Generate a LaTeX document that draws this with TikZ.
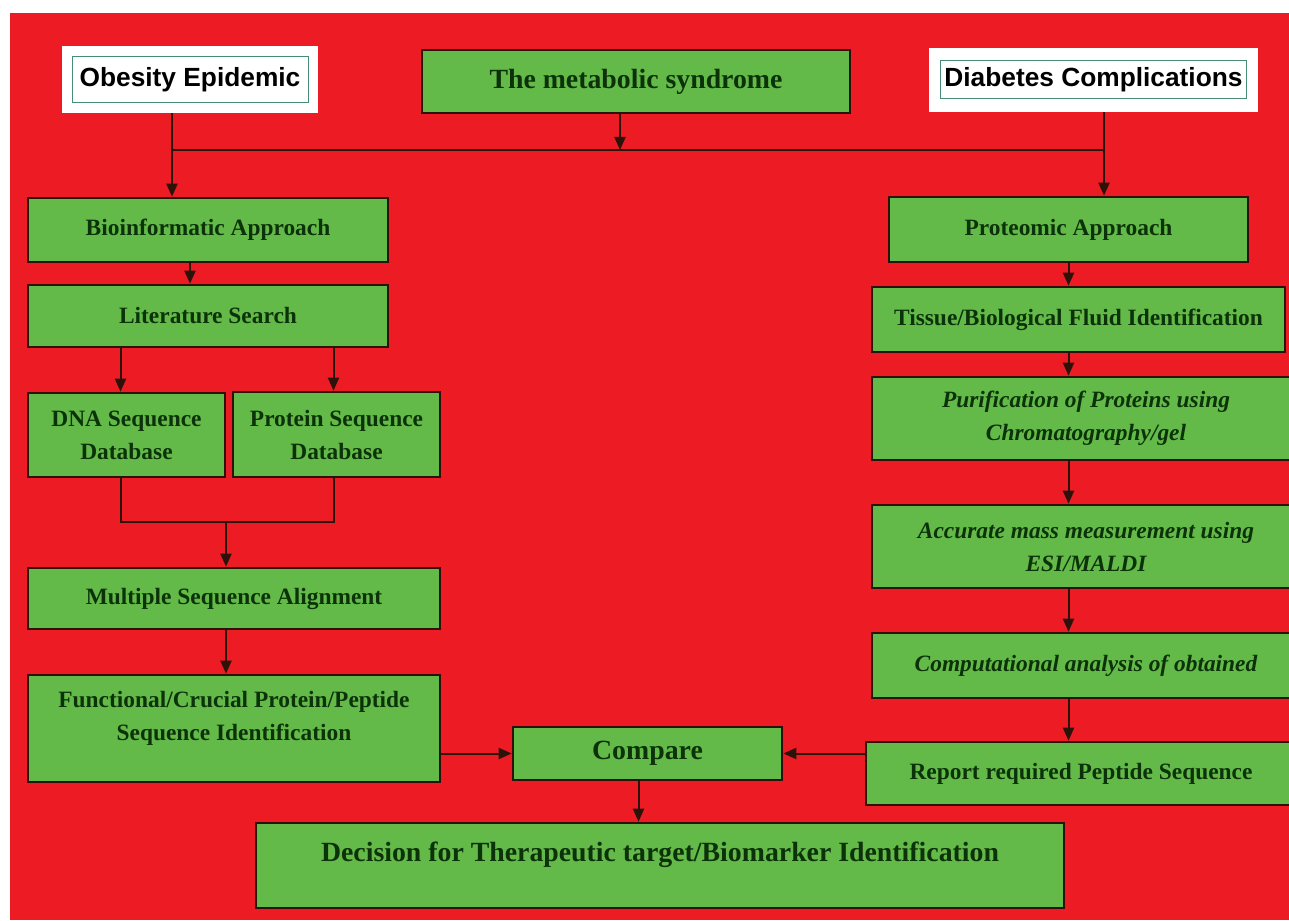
\documentclass[tikz,border=0pt]{standalone}
\usepackage{fontspec}
\setmainfont{Liberation Serif}
\newfontfamily\arialfont{Liberation Sans}
\usetikzlibrary{arrows.meta}
\definecolor{bgred}{RGB}{237,28,36}
\definecolor{boxgreen}{RGB}{100,186,72}
\definecolor{txtgreen}{RGB}{12,50,10}
\definecolor{edge}{RGB}{45,18,10}
\definecolor{frameteal}{RGB}{70,140,120}

\begin{document}
\begin{tikzpicture}[x=1pt,y=-1pt,>={Triangle[length=13pt,width=11pt]},
    dims/.style 2 args={minimum width=#1pt,minimum height=#2pt},
    box/.style={draw=edge,line width=2.6pt,fill=boxgreen,text=txtgreen,inner sep=0pt,
        align=center,font=\fontsize{23.4}{33}\selectfont\bfseries},
    bigbox/.style={box,font=\fontsize{27.8}{33}\selectfont\bfseries},
    slanted/.style={box,font=\fontsize{23.4}{33}\selectfont\bfseries\itshape},
    lbl/.style={text=txtgreen,inner sep=0pt,align=center,font=\fontsize{23.4}{33}\selectfont\bfseries},
    whitebox/.style={fill=white,inner sep=0pt},
    framed/.style={draw=frameteal,line width=1pt,fill=white,inner sep=0pt,
        font=\arialfont\fontsize{26.3}{30}\selectfont\bfseries},
    link/.style={draw=edge,line width=2pt}]
    \clip (0,0) rectangle (1289,920);
    \fill[white] (0,0) rectangle (1289,920);
    \fill[bgred] (10,13) rectangle (1289,920);

    % top row
    \node[whitebox,dims={256}{67}] (obeBg) at (190,79.5) {};
    \node[framed,dims={236}{46}] (obe) at (obeBg.center) {Obesity Epidemic};
    \node[bigbox,dims={428}{63}] (met) at (636,81.5) {The metabolic syndrome};
    \node[whitebox,dims={329}{64}] (diaBg) at (1093.5,80) {};
    \node[framed,dims={306}{38}] (dia) at (diaBg.center) {Diabetes Complications};

    % bioinformatic side
    \node[box,dims={360}{64}] (bio) at (208,230) {Bioinformatic Approach};
    \node[box,dims={360}{62}] (lit) at (208,316) {Literature Search};
    \node[box,dims={197}{84}] (dna) at (126.5,435) {DNA Sequence\\Database};
    \node[box,dims={207}{85}] (pro) at (336.5,434.5) {Protein Sequence\\Database};
    \node[box,dims={412}{61}] (msa) at (234,598.5) {Multiple Sequence Alignment};
    \node[box,dims={412}{107}] (func) at (234,728.5) {};
    \node[lbl] (funcT) at (234,718) {Functional/Crucial Protein/Peptide\\Sequence Identification};

    % proteomic side
    \node[box,dims={359}{65}] (prot) at (1068.5,229.5) {Proteomic Approach};
    \node[box,dims={413}{65}] (tis) at (1078.5,319.5) {Tissue/Biological Fluid Identification};
    \node[slanted,dims={428}{83}] (pur) at (1086,418.5) {Purification of Proteins using\\Chromatography/gel};
    \node[slanted,dims={428}{83}] (acc) at (1086,546.5) {Accurate mass measurement using\\ESI/MALDI};
    \node[slanted,dims={428}{65}] (comp) at (1086,665.5) {Computational analysis of obtained};
    \node[box,dims={430}{63}] (rep) at (1081,773.5) {Report required Peptide Sequence};

    % bottom
    \node[bigbox,dims={269}{53}] (cmp) at (647.5,753.5) {Compare};
    \node[bigbox,dims={808}{85}] (dec) at (660,865.5) {};
    \node[lbl,font=\fontsize{27.8}{33}\selectfont\bfseries] (decT) at (660,855)
        {Decision for Therapeutic target/Biomarker Identification};

    \coordinate (jl) at (172,150);
    \coordinate (jm) at (620,150);
    \coordinate (jr) at (1104,150);
    \coordinate (mj) at (226,522);
    \coordinate (bioOut) at ([xshift=-18pt]bio.south);
    \coordinate (dnaIn) at ([xshift=-6pt]dna.north);
    \coordinate (proIn) at ([xshift=-3pt]pro.north);
    \coordinate (cmpOut) at ([xshift=-9pt]cmp.south);

    \draw[link,->] (obeBg.south -| jl) -- (bio.north -| jl);
    \draw[link] (jl) -- (jr);
    \draw[link,->] (met.south -| jm) -- (jm);
    \draw[link,->] (diaBg.south -| jr) -- (prot.north -| jr);

    \draw[link,->] (bioOut) -- (bioOut |- lit.north);
    \draw[link,->] (dnaIn |- lit.south) -- (dnaIn);
    \draw[link,->] (proIn |- lit.south) -- (proIn);
    \draw[link] (dnaIn |- dna.south) |- (mj) -| (proIn |- pro.south);
    \draw[link,->] (mj) -- (mj |- msa.north);
    \draw[link,->] (mj |- msa.south) -- (mj |- func.north);

    \foreach \a/\b in {prot/tis,tis/pur,pur/acc,acc/comp,comp/rep}
        \draw[link,->] (prot.south |- \a.south) -- (prot.south |- \b.north);

    \draw[link,->] (func.east |- cmp.west) -- (cmp.west);
    \draw[link,->] (rep.west |- cmp.east) -- (cmp.east);
    \draw[link,->] (cmpOut) -- (cmpOut |- dec.north);
\end{tikzpicture}
\end{document}
